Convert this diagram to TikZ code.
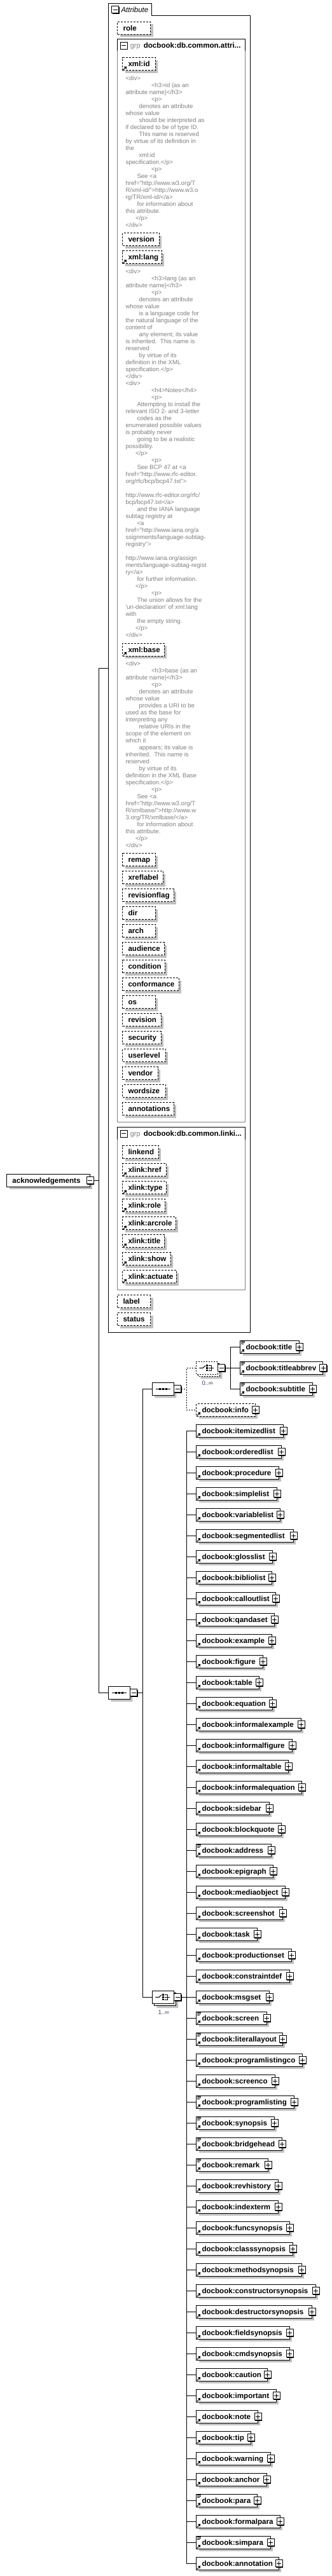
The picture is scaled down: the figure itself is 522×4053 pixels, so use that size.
\documentclass[tikz,border=0pt]{standalone}
\usepackage{fontspec}
\setmainfont{Liberation Sans}
\usetikzlibrary{shapes.misc,shadows}
\definecolor{shadowgray}{RGB}{192,192,192}
\definecolor{anngray}{RGB}{128,128,128}
\definecolor{occ}{RGB}{64,64,112}
\newcounter{annblk}
\newcounter{annln}
\newcommand\annstart[1]{\stepcounter{annblk}\setcounter{annln}{0}\def\annbase{#1}}
\newcommand\annl[2]{\node[anntext] (ann\theannblk-\theannln) at ({197+#1},{\annbase+11*\theannln}) {#2};\stepcounter{annln}}
\newcommand\refarrow[1]{%
 \draw[line width=1pt] ([shift={(1.5pt,1.5pt)}]#1.south west) -- ([shift={(4pt,4pt)}]#1.south west);
 \fill ([shift={(6.8pt,6.8pt)}]#1.south west) -- ([shift={(2.4pt,6.2pt)}]#1.south west) -- ([shift={(6.2pt,2.4pt)}]#1.south west) -- cycle;}
\newcommand\linesicon[1]{%
 \draw[line width=0.8pt] ([shift={(1.5pt,-1.5pt)}]#1.north west) -- ++(6pt,0pt)
   ([shift={(1.5pt,-3.5pt)}]#1.north west) -- ++(6pt,0pt)
   ([shift={(1.5pt,-5.5pt)}]#1.north west) -- ++(4.5pt,0pt);}
\newcommand\seqicon[1]{%
 \draw[line width=1pt] ([xshift=-11.5pt]#1.center) -- ([xshift=11.5pt]#1.center);
 \foreach \dx in {-4.8,0,4.8}{\fill ([shift={(\dx pt-1.5pt,-1.5pt)}]#1.center) rectangle ++(3pt,3pt);}}
\newcommand\choiceicon[1]{%
 \draw[line width=1pt] ([xshift=-12pt]#1.center) -- ([xshift=-6.3pt]#1.center) -- ([shift={(-2.3pt,3.7pt)}]#1.center);
 \foreach \dy in {3.7,0,-3.7}{\fill ([shift={(-1.3pt,\dy pt-1.3pt)}]#1.center) rectangle ++(2.6pt,2.6pt);}
 \draw[line width=1pt] ([shift={(2.3pt,3.7pt)}]#1.center) -- ([shift={(7pt,3.7pt)}]#1.center) -- ([shift={(7pt,-3.7pt)}]#1.center) -- ([shift={(2.3pt,-3.7pt)}]#1.center);
 \draw[line width=1pt] ([xshift=2.3pt]#1.center) -- ([xshift=11pt]#1.center);}
\tikzset{
 lbl/.style={inner sep=0pt, anchor=west, font=\fontsize{11.6}{13}\selectfont\bfseries, text height=8.3pt, text depth=0pt},
 gtxt/.style={inner sep=0pt, anchor=west, font=\fontsize{11}{13}\selectfont, text=anngray, text height=8pt, text depth=0pt},
 sh/.style={general shadow={fill=shadowgray, shadow xshift=4pt, shadow yshift=-4pt}},
 attrbox/.style={draw, dash pattern=on 3pt off 2pt, fill=white, inner sep=0pt, minimum height=20pt, anchor=north west, sh},
 elbox/.style={draw, fill=white, inner sep=0pt, minimum height=20pt, anchor=west, sh},
 optbox/.style={elbox, dash pattern=on 3pt off 2pt},
 pm/.style={draw, solid, fill=white, inner sep=0pt, minimum size=11pt, line width=1pt, general shadow={fill=black, shadow xshift=1pt, shadow yshift=-1pt}},
 plusbox/.style={pm, path picture={\draw[line width=1pt] ([xshift=-3.5pt]path picture bounding box.center) -- ([xshift=3.5pt]path picture bounding box.center) ([yshift=-3.5pt]path picture bounding box.center) -- ([yshift=3.5pt]path picture bounding box.center);}},
 minusbox/.style={pm, path picture={\draw[line width=1pt] ([xshift=-3.5pt]path picture bounding box.center) -- ([xshift=3.5pt]path picture bounding box.center);}},
 comp/.style={chamfered rectangle, chamfered rectangle xsep=5.3pt, chamfered rectangle ysep=5.3pt, draw, fill=white, minimum width=34pt, minimum height=20pt, inner sep=0pt},
 conn/.style={line width=1pt},
 optconn/.style={conn, dash pattern=on 2pt off 2pt},
 anntext/.style={anchor=base west, inner sep=0pt, text=anngray, font=\fontsize{9.6}{11}\selectfont},
 occtxt/.style={inner sep=0pt, text=occ, font=\fontsize{9.6}{11}\selectfont},
}
\begin{document}
\begin{tikzpicture}[x=1pt,y=-1pt,line width=1pt]
\fill[white] (0,0) rectangle (522,4053);
\useasboundingbox (0,0) rectangle (522,4053);
% ---------- Attribute box ----------
\draw (170.3,5.3) -- (238.7,5.3) -- (238.7,24.3) -- (393.3,24.3) -- (393.3,2096.3) -- (170.3,2096.3) -- cycle;
\coordinate (attrL) at (170.3,1051.3);
\node[minusbox] (attrm) at (181,15.3) {};
\node[inner sep=0pt, anchor=west, font=\fontsize{11.5}{13}\selectfont\itshape, text height=8.3pt, text depth=0pt] (attrt) at (190,15.3) {Attribute};
% group 1
\draw[anngray] (184.3,61.3) rectangle (385.7,1765);
\draw (184.3,80) -- (184.3,61.3) -- (385.7,61.3) -- (385.7,80);
\node[minusbox] (g1m) at (194.7,71.7) {};
\node[gtxt] (g1g) at (204.3,71.7) {grp};
\node[lbl] (g1n) at (225.3,71.7) {docbook:db.common.attri...};
% group 2
\draw[anngray] (184.3,1773.3) rectangle (385.7,2029.3);
\draw (184.3,1792.7) -- (184.3,1773.3) -- (385.7,1773.3) -- (385.7,1792.7);
\node[minusbox] (g2m) at (194.7,1783.8) {};
\node[gtxt] (g2g) at (204.3,1783.3) {grp};
\node[lbl] (g2n) at (225.3,1783.3) {docbook:db.common.linki...};
% attributes
\foreach \nm/\lx/\yt/\rx/\rf [count=\k] in {
role/184.3/33.7/236/0,
xml:id/192.3/90.3/243.7/1,
version/192.3/366.3/249.7/0,
xml:lang/192.3/394.3/253.7/1,
xml:base/192.3/1011.7/257.7/1,
remap/192.3/1342.3/243.7/0,
xreflabel/192.3/1370.3/255.7/0,
revisionflag/192.3/1398.3/272.7/0,
dir/192.3/1426.3/243.7/0,
arch/192.3/1454.3/243.7/0,
audience/192.3/1482.3/257.7/0,
condition/192.3/1510.3/258.7/0,
conformance/192.3/1538.3/280.7/0,
os/192.3/1566.3/243.7/0,
revision/192.3/1594.3/252.7/0,
security/192.3/1622.3/252.7/0,
userlevel/192.3/1650.3/259.7/0,
vendor/192.3/1678.3/247.7/0,
wordsize/192.3/1706.3/259.7/0,
annotations/192.3/1734.3/272.7/0,
linkend/192.3/1802.3/248.7/0,
xlink:href/192.3/1830.3/260.7/1,
xlink:type/192.3/1858.3/260.7/1,
xlink:role/192.3/1886.3/258.7/1,
xlink:arcrole/192.3/1914.3/275.7/1,
xlink:title/192.3/1942.3/257.7/1,
xlink:show/192.3/1970.3/267.7/1,
xlink:actuate/192.3/1998.3/276.7/1,
label/184.3/2037.3/236/0,
status/184.3/2065.3/236/0}{
 \pgfmathsetmacro\ww{\rx-\lx}
 \node[attrbox, minimum width=\ww pt] (a\k) at (\lx,\yt) {};
 \node[lbl] (a\k t) at ([xshift=8.7pt]a\k.west) {\nm};
 \ifnum\rf=1 \refarrow{a\k}\fi
}
% annotations
\annstart{126.1}
\annl{0}{<div>}
\annl{40.5}{<h3>id (as an}
\annl{0}{attribute name)</h3>}
\annl{40.5}{<p>}
\annl{21}{denotes an attribute}
\annl{0}{whose value}
\annl{21}{should be interpreted as}
\annl{0}{if declared to be of type ID.}
\annl{21}{This name is reserved}
\annl{0}{by virtue of its definition in}
\annl{0}{the}
\annl{21}{xml:id}
\annl{0}{specification.</p>}
\annl{40.5}{<p>}
\annl{18}{See <a}
\annl{0}{href="http://www.w3.org/T}
\annl{0}{R/xml-id/">http://www.w3.o}
\annl{0}{rg/TR/xml-id/</a>}
\annl{18}{for information about}
\annl{0}{this attribute.}
\annl{15.5}{</p>}
\annl{0}{</div>}
\annstart{430.1}
\annl{0}{<div>}
\annl{40.5}{<h3>lang (as an}
\annl{0}{attribute name)</h3>}
\annl{40.5}{<p>}
\annl{21}{denotes an attribute}
\annl{0}{whose value}
\annl{21}{is a language code for}
\annl{0}{the natural language of the}
\annl{0}{content of}
\annl{21}{any element; its value}
\annl{0}{is inherited.\ \ This name is}
\annl{0}{reserved}
\annl{21}{by virtue of its}
\annl{0}{definition in the XML}
\annl{0}{specification.</p>}
\annl{0}{</div>}
\annl{0}{<div>}
\annl{40.5}{<h4>Notes</h4>}
\annl{40.5}{<p>}
\annl{18}{Attempting to install the}
\annl{0}{relevant ISO 2- and 3-letter}
\annl{18}{codes as the}
\annl{0}{enumerated possible values}
\annl{0}{is probably never}
\annl{18}{going to be a realistic}
\annl{0}{possibility.}
\annl{15.5}{</p>}
\annl{40.5}{<p>}
\annl{18}{See BCP 47 at <a}
\annl{0}{href="http://www.rfc-editor.}
\annl{0}{org/rfc/bcp/bcp47.txt">}
\annl{0}{}
\annl{0}{http://www.rfc-editor.org/rfc/}
\annl{0}{bcp/bcp47.txt</a>}
\annl{18}{and the IANA language}
\annl{0}{subtag registry at}
\annl{18}{<a}
\annl{0}{href="http://www.iana.org/a}
\annl{0}{ssignments/language-subtag-}
\annl{0}{registry">}
\annl{0}{}
\annl{0}{http://www.iana.org/assign}
\annl{0}{ments/language-subtag-regist}
\annl{0}{ry</a>}
\annl{18}{for further information.}
\annl{15.5}{</p>}
\annl{40.5}{<p>}
\annl{18}{The union allows for the}
\annl{0}{\textquotesingle{}un-declaration\textquotesingle{} of xml:lang}
\annl{0}{with}
\annl{18}{the empty string.}
\annl{15.5}{</p>}
\annl{0}{</div>}
\annstart{1047.1}
\annl{0}{<div>}
\annl{40.5}{<h3>base (as an}
\annl{0}{attribute name)</h3>}
\annl{40.5}{<p>}
\annl{21}{denotes an attribute}
\annl{0}{whose value}
\annl{21}{provides a URI to be}
\annl{0}{used as the base for}
\annl{0}{interpreting any}
\annl{21}{relative URIs in the}
\annl{0}{scope of the element on}
\annl{0}{which it}
\annl{21}{appears; its value is}
\annl{0}{inherited.\ \ This name is}
\annl{0}{reserved}
\annl{21}{by virtue of its}
\annl{0}{definition in the XML Base}
\annl{0}{specification.</p>}
\annl{40.5}{<p>}
\annl{18}{See <a}
\annl{0}{href="http://www.w3.org/T}
\annl{0}{R/xmlbase/">http://www.w}
\annl{0}{3.org/TR/xmlbase/</a>}
\annl{18}{for information about}
\annl{0}{this attribute.}
\annl{15.5}{</p>}
\annl{0}{</div>}
% ---------- root ----------
\node[elbox, minimum width=130.4pt] (ack) at (10.3,1857.3) {};
\node[lbl] (ackt) at ([xshift=8.7pt]ack.west) {acknowledgements};
\node[minusbox] (ackm) at (ack.east) {};
\coordinate (j0) at (155.3,1857.3);
% compositors
\node[comp, sh] (seq1) at (187.3,2663.3) {};
\seqicon{seq1}
\node[minusbox] (seq1m) at ([xshift=5.5pt]seq1.east) {};
\node[comp, sh] (seq2) at (256.3,2185.3) {};
\seqicon{seq2}
\node[minusbox] (seq2m) at ([xshift=5.5pt]seq2.east) {};
\node[comp, dash pattern=on 2pt off 2pt, sh] (ch1b) at (328.3,2155.3) {};
\node[comp, dash pattern=on 2pt off 2pt] (ch1) at (325.3,2152.3) {};
\choiceicon{ch1}
\node[minusbox] (ch1m) at ([xshift=5.5pt]ch1.east) {};
\node[occtxt] (ch1o) at (326.3,2176) {0..∞};
\node[comp, sh] (ch2b) at (259.3,3145.3) {};
\node[comp] (ch2) at (256.3,3142.3) {};
\choiceicon{ch2}
\node[minusbox] (ch2m) at ([xshift=5.5pt]ch2.east) {};
\node[occtxt] (ch2o) at (257.3,3166) {1..∞};
\coordinate (j1) at (224.3,2663.3);
\coordinate (j2) at (293.3,2185.3);
\coordinate (j3) at (362.3,2152.3);
% title group elements
\node[elbox, minimum width=92.4pt] (ttl) at (377.3,2119.3) {};
\node[lbl] (ttlt) at ([xshift=8.7pt]ttl.west) {docbook:title};
\node[plusbox] (ttlp) at (ttl.east) {};
\linesicon{ttl}\refarrow{ttl}
\node[elbox, minimum width=130pt] (tab) at (377.3,2152.3) {};
\node[lbl] (tabt) at ([xshift=8.7pt]tab.west) {docbook:titleabbrev};
\node[plusbox] (tabp) at (tab.east) {};
\linesicon{tab}\refarrow{tab}
\node[elbox, minimum width=113.4pt] (tsub) at (377.3,2185.3) {};
\node[lbl] (tsubt) at ([xshift=8.7pt]tsub.west) {docbook:subtitle};
\node[plusbox] (tsubp) at (tsub.east) {};
\linesicon{tsub}\refarrow{tsub}
\node[optbox, minimum width=92.4pt] (info) at (308.3,2218.3) {};
\node[lbl] (infot) at ([xshift=8.7pt]info.west) {docbook:info};
\node[plusbox] (infop) at (info.east) {};
\refarrow{info}
% block elements
\foreach \nm/\rx/\ic [count=\i from 0] in {
itemizedlist/444.7/0, orderedlist/441.7/0, procedure/437.7/0, simplelist/434.7/0,
variablelist/439.7/0, segmentedlist/460.7/0, glosslist/427.7/0, bibliolist/426.7/0,
calloutlist/432.7/0, qandaset/430.7/0, example/426.7/0, figure/412.7/0, table/406.7/0,
equation/427.7/0, informalexample/472.7/0, informalfigure/458.7/0, informaltable/452.7/0,
informalequation/473.7/0, sidebar/422.7/0, blockquote/441.7/0, address/425.7/1,
epigraph/428.7/0, mediaobject/447.7/0, screenshot/443.7/0, task/403.7/0,
productionset/457.7/0, constraintdef/454.7/0, msgset/422.7/0, screen/418.7/1,
literallayout/443.7/1, programlistingco/474.7/0, screenco/431.7/0, programlisting/461.7/1,
synopsis/430.7/1, bridgehead/442.7/1, remark/420.7/1, revhistory/436.7/0,
indexterm/436.7/0, funcsynopsis/454.7/0, classsynopsis/459.7/0, methodsynopsis/473.7/0,
constructorsynopsis/495.7/0, destructorsynopsis/489.7/0, fieldsynopsis/454.7/0,
cmdsynopsis/454.7/0, caution/419.7/0, important/433.7/0, note/404.7/0, tip/393.7/0,
warning/424.7/0, anchor/418.7/0, para/403.7/1, formalpara/439.7/0, simpara/424.7/1,
annotation/437.7/0}{
 \pgfmathsetmacro\yy{2251.3+33*\i}
 \pgfmathsetmacro\ww{\rx-308.3}
 \node[elbox, minimum width=\ww pt] (e\i) at (308.3,\yy) {};
 \node[lbl] (e\i t) at ([xshift=8.7pt]e\i.west) {docbook:\nm};
 \node[plusbox] (e\i p) at (e\i.east) {};
 \coordinate (b\i) at (293.3,\yy);
 \draw[conn] (b\i) -- (e\i.west);
 \refarrow{e\i}
 \ifnum\ic=1 \linesicon{e\i}\fi
}
% ---------- connectors ----------
\draw[conn] (ackm.east) -- (j0);
\draw[conn] (attrL) -| (j0) |- (seq1.west);
\draw[conn] (seq1m.east) -- (j1);
\draw[conn] (seq2.west) -| (j1) |- (ch2.west);
\draw[optconn] (seq2m.east) -- (j2);
\draw[optconn] (ch1.west) -| (j2) |- (info.west);
\draw[conn] (ch1m.east) -- (tab.west);
\draw[conn] (ttl.west) -| (j3) |- (tsub.west);
\draw[conn] (ch2m.east) -- (e27.west);
\draw[conn] (b0) -- (b54);
\end{tikzpicture}
\end{document}
